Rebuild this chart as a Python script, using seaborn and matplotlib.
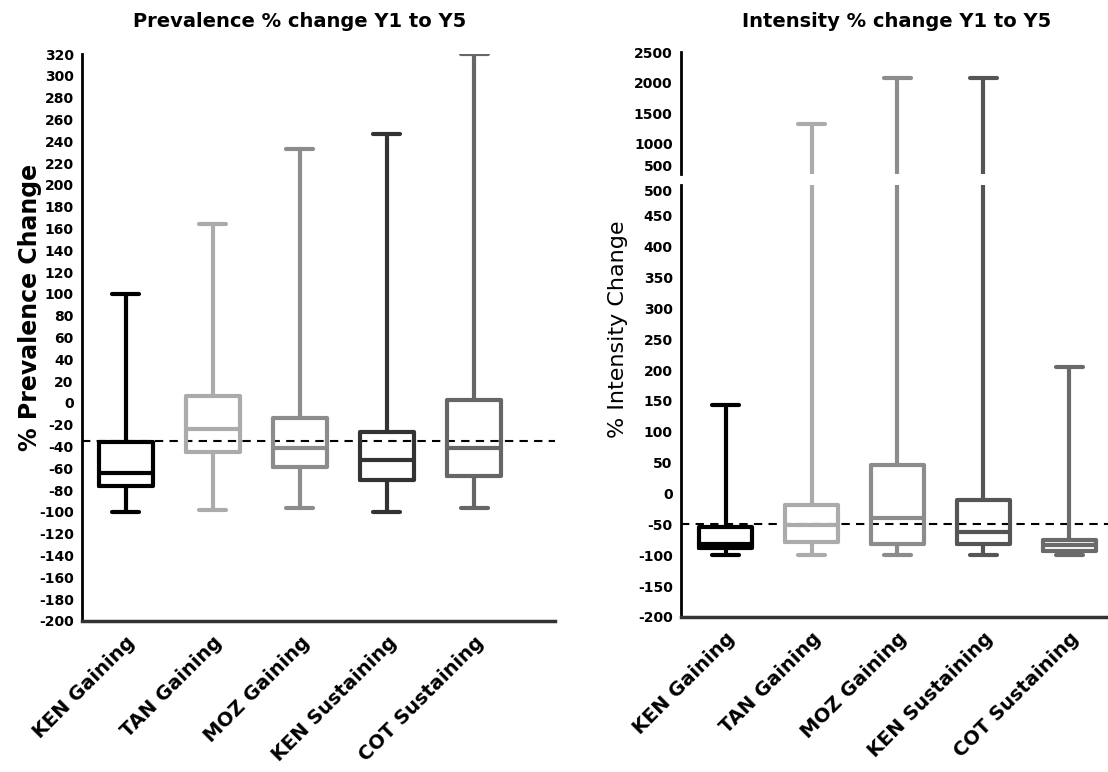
import numpy as np
import pandas as pd
import matplotlib
matplotlib.use("Agg")
import matplotlib.pyplot as plt
import seaborn as sns

# groups on the x axis (same for both panels)
groups = ['KEN Gaining', 'TAN Gaining', 'MOZ Gaining', 'KEN Sustaining', 'COT Sustaining']

# prevalence % change: five-number summaries (min, q1, median, q3, max)
prev_min = [-100, -98, -96, -100, -96]
prev_q1 = [-76, -45, -59, -71, -67]
prev_med = [-64, -24, -41, -52, -41]
prev_q3 = [-36, 6, -14, -27, 3]
prev_max = [100, 164, 233, 247, 320]
prev_ref = -35

# intensity % change
int_min = [-100, -100, -100, -100, -100]
int_q1 = [-89, -78, -81, -81, -93]
int_med = [-81, -51, -40, -62, -84]
int_q3 = [-54, -18, 46, -11, -76]
int_max = [143, 1320, 2075, 2075, 205]
int_ref = -50

prev_colors = ['#000000', '#ababab', '#8c8c8c', '#333333', '#666666']
int_colors = ['#000000', '#ababab', '#8c8c8c', '#555555', '#6a6a6a']


# Function to turn the five-number lists into a long table for seaborn
def make_frame(mins, q1s, meds, q3s, maxs):
    rows = []
    for i, g in enumerate(groups):
        for v in (mins[i], q1s[i], meds[i], q3s[i], maxs[i]):
            rows.append({'group': g, 'value': v})
    return pd.DataFrame(rows)


# Function to draw min-max box plots on an axis
def draw_boxes(ax, df, colors):
    sns.boxplot(data=df, x='group', y='value', hue='group', palette=colors,
                whis=(0, 100), width=0.62, fill=False, linewidth=3,
                legend=False, ax=ax)
    ax.set_xlabel('')
    ax.set_ylabel('')


def style_axis(ax):
    sns.despine(ax=ax)
    ax.spines['left'].set_linewidth(2)
    ax.spines['left'].set_color('black')
    ax.spines['bottom'].set_linewidth(2.5)
    ax.spines['bottom'].set_color('#333333')
    ax.tick_params(axis='y', length=5, width=1.5, labelsize=10, pad=1)
    for lab in ax.get_yticklabels():
        lab.set_fontweight('bold')


if __name__ == "__main__":
    sns.set_style('white')
    plt.rcParams['font.family'] = ['DejaVu Sans']
    plt.rcParams['axes.unicode_minus'] = False
    for key in ('text.color', 'axes.labelcolor', 'xtick.color', 'ytick.color'):
        plt.rcParams[key] = 'black'

    prev_df = make_frame(prev_min, prev_q1, prev_med, prev_q3, prev_max)
    int_df = make_frame(int_min, int_q1, int_med, int_q3, int_max)

    fig = plt.figure(figsize=(11.08, 7.72), dpi=100)

    # left panel - prevalence
    ax1 = fig.add_axes([0.074, 0.1956, 0.427, 0.7344])
    draw_boxes(ax1, prev_df, prev_colors)
    ax1.axhline(prev_ref, color='black', linestyle=(0, (4, 3)), linewidth=1.5, zorder=0)
    ax1.set_ylim(-200, 320)
    ax1.set_yticks(np.arange(-200, 321, 20))
    ax1.set_xlim(-0.5, 4.93)
    style_axis(ax1)
    ax1.tick_params(axis='x', length=5, width=1.5)
    ax1.set_xticks(range(len(groups)))
    ax1.set_xticklabels(groups, rotation=45, ha='right', rotation_mode='anchor',
                        fontsize=14, fontweight='bold')

    # right panel - intensity, broken y axis
    ax2 = fig.add_axes([0.6146, 0.2008, 0.3854, 0.5596])
    ax3 = fig.add_axes([0.6146, 0.7746, 0.3854, 0.158])
    for ax in (ax2, ax3):
        draw_boxes(ax, int_df, int_colors)
        ax.set_xlim(-0.52, 4.45)
        style_axis(ax)
    ax2.axhline(int_ref, color='black', linestyle=(0, (4, 3)), linewidth=1.5, zorder=0)
    ax2.set_ylim(-200, 500)
    ax2.set_yticks(np.arange(-200, 501, 50))
    ax2.tick_params(axis='x', length=5, width=1.5)
    ax2.set_xticks(range(len(groups)))
    ax2.set_xticklabels(groups, rotation=45, ha='right', rotation_mode='anchor',
                        fontsize=14, fontweight='bold')
    ax3.set_ylim(500, 2500)
    ax3.set_yticks(np.arange(500, 2501, 500))
    ax3.spines['bottom'].set_visible(False)
    ax3.set_xticks([])
    for ax in (ax2, ax3):
        for lab in ax.get_yticklabels():
            lab.set_fontweight('bold')
    # keep the two "500" labels at the break apart
    ax3.get_yticklabels()[0].set_verticalalignment('bottom')
    ax2.get_yticklabels()[-1].set_verticalalignment('top')

    fig.text(0.27, 0.972, 'Prevalence % change Y1 to Y5', ha='center', va='center',
             fontsize=14, fontweight='bold')
    fig.text(0.809, 0.972, 'Intensity % change Y1 to Y5', ha='center', va='center',
             fontsize=14, fontweight='bold')
    fig.text(0.027, 0.602, '% Prevalence Change', rotation=90, ha='center', va='center',
             fontsize=17, fontweight='bold')
    fig.text(0.558, 0.573, '% Intensity Change', rotation=90, ha='center', va='center',
             fontsize=16)

    fig.savefig('out.png', dpi=100)
